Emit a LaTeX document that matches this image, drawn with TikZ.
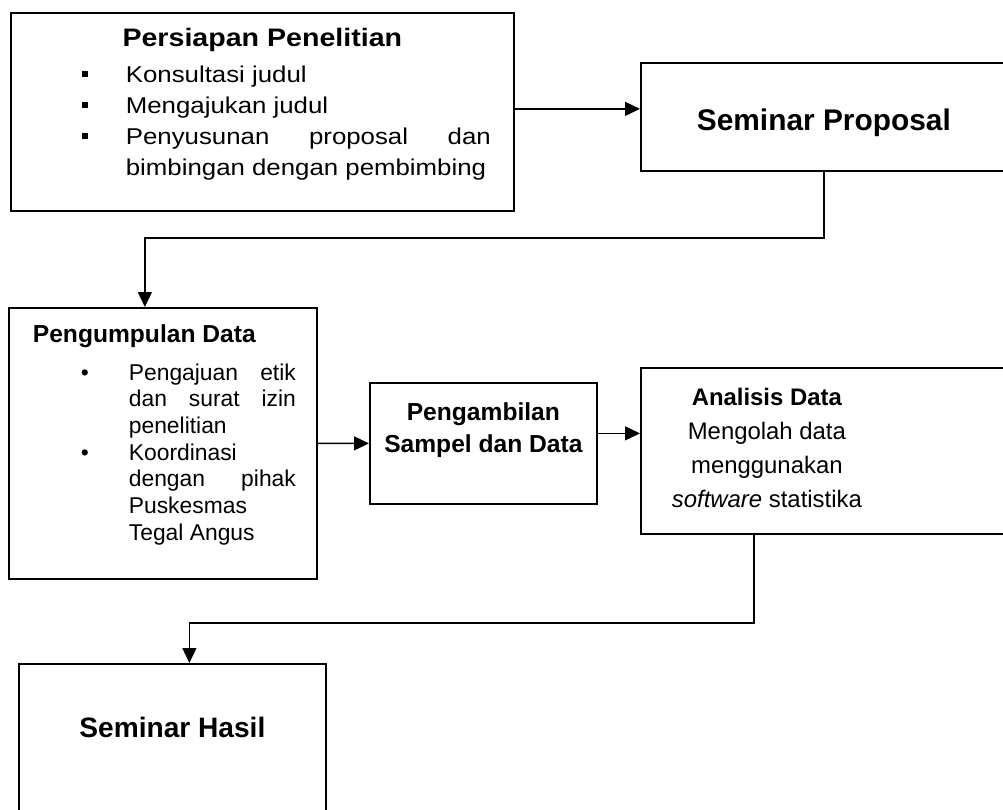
\documentclass[tikz,border=0pt]{standalone}
\usepackage{fontspec}
\setmainfont{Liberation Sans}
\newfontfamily\widefont[FakeStretch=1.13]{Liberation Sans}
\usetikzlibrary{arrows.meta, positioning, calc}

\begin{document}
\begin{tikzpicture}[x=0.2mm, y=-0.2mm, >={Triangle[length=3mm, width=2.8mm]}, line join=miter]
	
	\tikzset{
		box/.style={draw, line width=1pt, inner sep=0pt, anchor=north west},
		flow/.style={->, line width=0.75pt}
	}
	
	\newcommand{\sqitem}[1]{\par{\leftskip=23mm\rightskip=4.6mm\noindent\llap{\makebox[8.8mm][l]{\raisebox{1.2mm}{\rule{1.2mm}{1.2mm}}}}#1\par}}
	\newcommand{\dotitem}[1]{\par{\leftskip=24mm\rightskip=4.2mm\noindent\llap{\makebox[9.6mm][l]{\textbullet}}#1\par}}
	
	\useasboundingbox (0,0) rectangle (1003,809);
	\clip (0,0) rectangle (1003,809);
	
	% boxes
	\node[box] (persiapan) at (10,12) {\begin{minipage}[t][39.6mm][t]{100.6mm}
			\widefont\fontsize{13}{17.6}\selectfont
			{\centering\bfseries\fontsize{14.4}{17.6}\selectfont\rule{0pt}{6.8mm}Persiapan Penelitian\par}
			\vspace{1mm}
			\sqitem{Konsultasi judul}
			\sqitem{Mengajukan judul}
			\sqitem{\makebox[73mm][s]{Penyusunan proposal dan}\\bimbingan dengan pembimbing}
	\end{minipage}};
	
	\node[box] (proposal) at (640,62) {\begin{minipage}[t][21.6mm][t]{73.2mm}
			\centering\bfseries\fontsize{17}{20}\selectfont\rule{0pt}{13.6mm}Seminar Proposal
	\end{minipage}};
	
	\node[box] (pengumpulan) at (8,307) {\begin{minipage}[t][54.2mm][t]{61.6mm}
			\fontsize{13}{15.2}\selectfont
			\hspace*{4.8mm}{\bfseries\fontsize{14}{15.2}\selectfont\rule{0pt}{7mm}Pengumpulan Data}\par
			\vspace{2.1mm}
			\dotitem{\makebox[33.4mm][s]{Pengajuan etik}\\\makebox[33.4mm][s]{dan surat izin}\\penelitian}
			\dotitem{Koordinasi\\\makebox[33.4mm][s]{dengan pihak}\\Puskesmas\\Tegal Angus}
	\end{minipage}};
	
	\node[box] (pengambilan) at (369,382) {\begin{minipage}[t][24.2mm][t]{45.4mm}
			\centering\bfseries\fontsize{14}{18.2}\selectfont
			\rule{0pt}{7.6mm}Pengambilan\\Sampel dan Data
	\end{minipage}};
	
	\node[box] (analisis) at (640,367) {\begin{minipage}[t][33.2mm][t]{76mm}
			\fontsize{13.6}{19.2}\selectfont
			\parbox[t]{50.4mm}{\centering\rule{0pt}{7.6mm}\textbf{Analisis Data}\\Mengolah data\\menggunakan\\\textit{software} statistika}
	\end{minipage}};
	
	\node[box] (hasil) at (18,663) {\begin{minipage}[t][34mm][t]{61.4mm}
			\centering\bfseries\fontsize{16}{19}\selectfont\rule{0pt}{14.8mm}Seminar Hasil
	\end{minipage}};
	
	% connectors
	\draw[flow] (persiapan.east) ++(0,-3) coordinate (p1) -- (p1 -| proposal.west);
	
	\coordinate (k1) at ($(pengumpulan.north)+(-18,0)$);
	\draw[flow] (proposal.south) |- ($(k1)+(0,-69)$) -- (k1);
	
	\draw[flow] (pengumpulan.east) -- (pengambilan.west);
	
	\draw[flow] (pengambilan.east) ++(0,-10) coordinate (p2) -- (p2 -| analisis.west);
	
	\coordinate (k2) at ($(hasil.north)+(17,0)$);
	\draw[flow] ($(analisis.south west)+(114,0)$) |- ($(k2)+(0,-40)$) -- (k2);
	
\end{tikzpicture}
\end{document}
